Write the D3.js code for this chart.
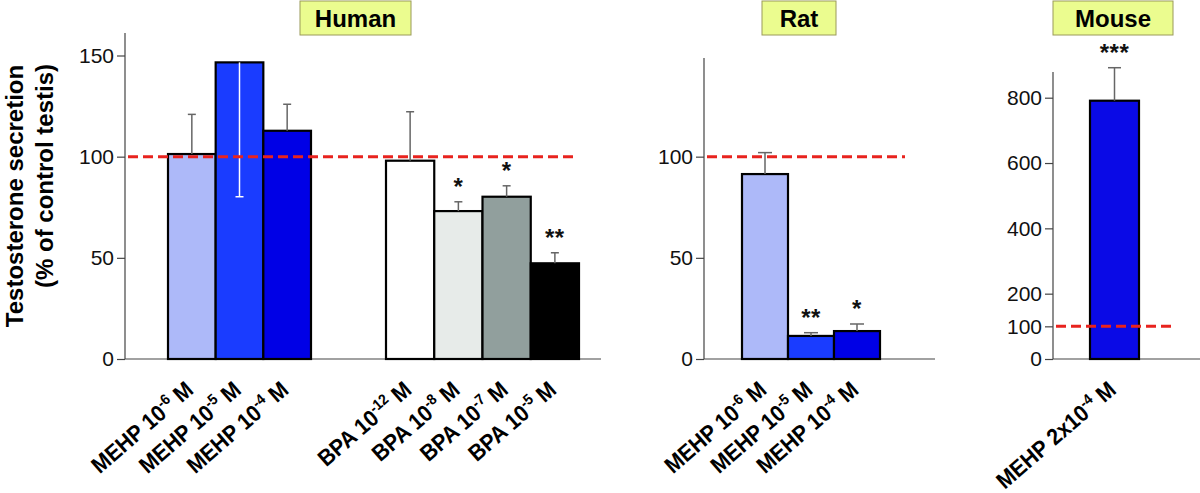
<!DOCTYPE html>
<html><head><meta charset="utf-8">
<script src="https://cdn.jsdelivr.net/npm/d3@7"></script>
<style>body{margin:0;background:#fff} svg{display:block;font-family:"Liberation Sans",Arial,Helvetica,sans-serif}</style>
</head><body><svg id="c" width="1200" height="493"></svg>
<script>
// ---- data ----
const humanMehpLabels = ["MEHP 10^-6 M","MEHP 10^-5 M","MEHP 10^-4 M"];
const humanMehpValues = [101.3,146.6,112.8];
const humanMehpErrors = [19.6,66.4,13.1];
const humanMehpErrorDown = [false,true,false];
const humanMehpStars = ["","",""];
const humanBpaLabels = ["BPA 10^-12 M","BPA 10^-8 M","BPA 10^-7 M","BPA 10^-5 M"];
const humanBpaValues = [98.0,73.1,80.2,47.3];
const humanBpaErrors = [24.2,4.6,5.4,5.2];
const humanBpaStars = ["","*","*","**"];
const ratLabels = ["MEHP 10^-6 M","MEHP 10^-5 M","MEHP 10^-4 M"];
const ratValues = [91.4,11.4,13.8];
const ratErrors = [10.6,1.6,3.5];
const ratStars = ["","**","*"];
const mouseLabels = ["MEHP 2x10^-4 M"];
const mouseValues = [790.8];
const mouseErrors = [101];
const mouseStars = ["***"];
const humanTicks = [0,50,100,150];
const ratTicks = [0,50,100];
const mouseTicks = [0,100,200,400,600,800];
const controlLevel = 100;
const panelTitles = ["Human","Rat","Mouse"];
const yAxisTitle = ["Testosterone secretion","(% of control testis)"];

// ---- styles ----
const mehpColors = ["#adb9f9","#1a3cff","#0000e6"];
const bpaColors = ["#ffffff","#e7ebe9","#919f9d","#000000"];
const mouseColors = ["#0a0ae6"];

const svg = d3.select("#c");
const BASE = 359;

function addLabel(g, label, x, y){
  const m = label.match(/^(.*?)\^(\S+)(.*)$/);
  const t = g.append("text").attr("transform",`translate(${x},${y}) rotate(-41) scale(0.92,1)`)
    .attr("text-anchor","end").attr("font-size",23).attr("font-weight","bold").attr("fill","#000");
  t.append("tspan").text(m[1]);
  t.append("tspan").attr("dy",-9).attr("font-size",15).text(m[2]);
  t.append("tspan").attr("dy",9).text(m[3]);
}

function drawPanel(p){
  const g = svg.append("g");
  const y = p.y;
  const ax = g.append("g").attr("transform",`translate(${p.axisX},0)`)
    .call(d3.axisLeft(y).tickValues(p.ticks).tickSize(8).tickPadding(3).tickFormat(d3.format("d")));
  ax.select(".domain").remove();
  ax.selectAll(".tick line").attr("stroke","#444").attr("stroke-width",1.2);
  ax.selectAll(".tick text").attr("font-size",21).attr("fill","#111")
    .attr("font-family","Liberation Sans, Arial, sans-serif");
  g.append("line").attr("x1",p.axisX).attr("x2",p.axisX).attr("y1",p.axisTop).attr("y2",BASE)
    .attr("stroke","#444").attr("stroke-width",1.2);
  g.append("line").attr("x1",p.axisX).attr("x2",p.baseEnd).attr("y1",BASE).attr("y2",BASE)
    .attr("stroke","#444").attr("stroke-width",1.2);

  p.groups.forEach(gr=>{
    const x = d3.scaleBand().domain(gr.labels.map((d,i)=>i)).range(gr.range).paddingInner(0).paddingOuter(0);
    const idx = gr.values.map((d,i)=>i);
    g.selectAll(null).data(idx).enter().append("rect")
      .attr("x",i=>x(i)).attr("width",x.bandwidth())
      .attr("y",i=>y(gr.values[i])).attr("height",i=>y(0)-y(gr.values[i]))
      .attr("fill",i=>gr.colors[i]).attr("stroke","#000").attr("stroke-width",2.2);
    idx.forEach(i=>{
      const cx = x(i)+x.bandwidth()/2;
      const down = gr.errDown && gr.errDown[i];
      const end = down ? gr.values[i]-gr.errors[i] : gr.values[i]+gr.errors[i];
      const col = down ? "#ffffff" : "#666";
      g.append("line").attr("x1",cx).attr("x2",cx).attr("y1",y(gr.values[i])).attr("y2",y(end))
        .attr("stroke",col).attr("stroke-width",1.5);
      g.append("line").attr("x1",cx-gr.cap/2).attr("x2",cx+gr.cap/2).attr("y1",y(end)).attr("y2",y(end))
        .attr("stroke",col).attr("stroke-width",1.5);
      addLabel(svg, gr.labels[i], cx+3, 392);
      if(gr.stars[i]){
        g.append("text").attr("x",cx).attr("y",y(end)-20+13).attr("text-anchor","middle")
          .attr("font-size",24).attr("font-weight","bold").attr("letter-spacing",0.5).attr("fill","#111").text(gr.stars[i]);
      }
    });
  });
  g.append("line").attr("x1",p.ref[0]).attr("x2",p.ref[1]).attr("y1",y(controlLevel)).attr("y2",y(controlLevel))
    .attr("stroke","#e8231e").attr("stroke-width",3).attr("stroke-dasharray","10,5");
  svg.append("rect").attr("x",p.title[1]).attr("y",1).attr("width",p.title[2]).attr("height",34)
    .attr("fill","#ebfc8f").attr("stroke","#9a9a5a").attr("stroke-width",1);
  svg.append("text").attr("x",p.title[1]+p.title[2]/2).attr("y",27).attr("text-anchor","middle")
    .attr("font-size",24).attr("font-weight","bold").attr("fill","#000").text(p.title[0]);
}

const yH = d3.scaleLinear().domain([0,150]).range([BASE,55.5]);
const yM = d3.scaleLinear().domain([0,800]).range([BASE,97.7]);

drawPanel({y:yH, axisX:125, axisTop:33, baseEnd:601, ticks:humanTicks, ref:[128,578],
  title:[panelTitles[0],300,111],
  groups:[
    {labels:humanMehpLabels, values:humanMehpValues, errors:humanMehpErrors, errDown:humanMehpErrorDown,
     stars:humanMehpStars, colors:mehpColors, range:[168,311], cap:8},
    {labels:humanBpaLabels, values:humanBpaValues, errors:humanBpaErrors,
     stars:humanBpaStars, colors:bpaColors, range:[386,579], cap:8}
  ]});
drawPanel({y:yH, axisX:704, axisTop:58, baseEnd:935, ticks:ratTicks, ref:[707,905],
  title:[panelTitles[1],762,74],
  groups:[{labels:ratLabels, values:ratValues, errors:ratErrors, stars:ratStars, colors:mehpColors, range:[742,880], cap:14}]});
drawPanel({y:yM, axisX:1053, axisTop:72, baseEnd:1200, ticks:mouseTicks, ref:[1056,1172],
  title:[panelTitles[2],1053,120],
  groups:[{labels:mouseLabels, values:mouseValues, errors:mouseErrors, stars:mouseStars, colors:mouseColors, range:[1090,1139], cap:13}]});

svg.append("text").attr("transform","translate(23,196) rotate(-90)").attr("text-anchor","middle")
  .attr("font-size",24).attr("font-weight","bold").attr("fill","#000").text(yAxisTitle[0]);
svg.append("text").attr("transform","translate(53,176) rotate(-90)").attr("text-anchor","middle")
  .attr("font-size",24).attr("font-weight","bold").attr("fill","#000").text(yAxisTitle[1]);
</script></body></html>
